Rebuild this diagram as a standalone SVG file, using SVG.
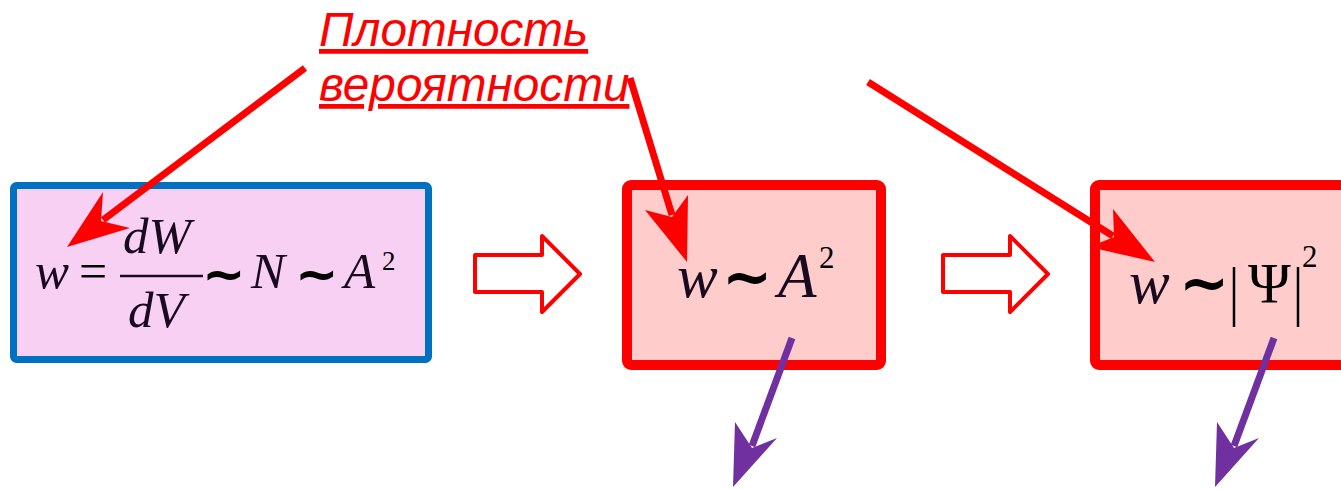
<svg xmlns="http://www.w3.org/2000/svg" width="1341" height="489" viewBox="0 0 1341 489">
<style>
.m{font-family:"Liberation Serif","Times New Roman",serif;font-style:italic;fill:#1a0a20}
.r{font-family:"Liberation Serif","Times New Roman",serif;fill:#000}
.t{font-family:"DejaVu Sans",sans-serif;font-weight:bold;fill:#000}
.lab{font-family:"Liberation Sans",Arial,sans-serif;font-style:italic;fill:#ff0000;font-size:47.7px;text-decoration:underline}
.ra{stroke:#ff0000;stroke-width:7;fill:none}
.pa{stroke:#7030a0;stroke-width:7;fill:none}
.blk{fill:#fff;stroke:#ff0000;stroke-width:4;stroke-linejoin:round}
</style>
<rect width="1341" height="489" fill="#fff"/>
<g id="box1">
<rect x="13.5" y="185.5" width="415" height="174" rx="3" fill="#f8d0f4" stroke="#0070c0" stroke-width="7"/>
<text class="m" x="35" y="288" font-size="51">w</text>
<text class="r" x="79" y="288" font-size="50" fill="#1a0a20">=</text>
<text class="m" x="123" y="253" font-size="51">dW</text>
<line x1="120" y1="276" x2="203" y2="276" stroke="#1a0a20" stroke-width="2.5"/>
<text class="m" x="128" y="327" font-size="51">dV</text>
<text class="t" x="202" y="292" font-size="52" fill="#1a0a20">~</text>
<text class="m" x="251" y="288" font-size="51">N</text>
<text class="t" x="295" y="292" font-size="52" fill="#1a0a20">~</text>
<text class="m" x="344" y="288" font-size="51">A</text>
<text class="r" x="382" y="270" font-size="27" fill="#1a0a20">2</text>
</g>
<g id="box2">
<rect x="627" y="185" width="254" height="180" rx="4" fill="#ffcccc" stroke="#ff0000" stroke-width="10"/>
<text class="m" x="677" y="297" font-size="61" fill="#000">w</text>
<text class="t" x="722" y="298" font-size="60">~</text>
<text class="m" x="778" y="297" font-size="63" fill="#000">A</text>
<text class="r" x="819" y="268" font-size="31">2</text>
</g>
<g id="box3">
<rect x="1095" y="185" width="270" height="180" rx="4" fill="#ffcccc" stroke="#ff0000" stroke-width="10"/>
<text class="m" x="1129" y="303" font-size="61" fill="#000">w</text>
<text class="t" x="1179" y="304" font-size="60">~</text>
<line x1="1234" y1="267" x2="1234" y2="327" stroke="#000" stroke-width="2.5"/>
<text class="r" x="1248" y="303" font-size="58">Ψ</text>
<line x1="1298" y1="267" x2="1298" y2="327" stroke="#000" stroke-width="2.5"/>
<text class="r" x="1302" y="267" font-size="31">2</text>
</g>
<g id="label">
<text class="lab" x="319" y="46">Плотность</text>
<text class="lab" x="319" y="101">вероятности</text>
</g>
<g id="connectors">
<path class="blk" d="M475,255 H542 V236 L580,274 L542,312 V292 H475 Z"/>
<path class="blk" d="M943,255 H1010 V236 L1048,274 L1010,312 V292 H943 Z"/>
<line class="ra" x1="305" y1="68" x2="103" y2="220"/>
<polygon fill="#ff0000" points="67,247 103,192 101,221 130,228"/>
<line class="ra" x1="630" y1="78" x2="672" y2="215"/>
<polygon fill="#ff0000" points="687,262 645,210 672,217 688,195"/>
<line class="ra" x1="868" y1="82" x2="1113" y2="236"/>
<polygon fill="#ff0000" points="1155,262 1113,209 1114,237 1089,247"/>
<line class="pa" x1="792" y1="338" x2="752" y2="446"/>
<polygon fill="#7030a0" points="733,487 735,422 752,448 777,438"/>
<line class="pa" x1="1274" y1="338" x2="1234" y2="446"/>
<polygon fill="#7030a0" points="1215,487 1217,422 1234,448 1259,438"/>
</g>
</svg>
